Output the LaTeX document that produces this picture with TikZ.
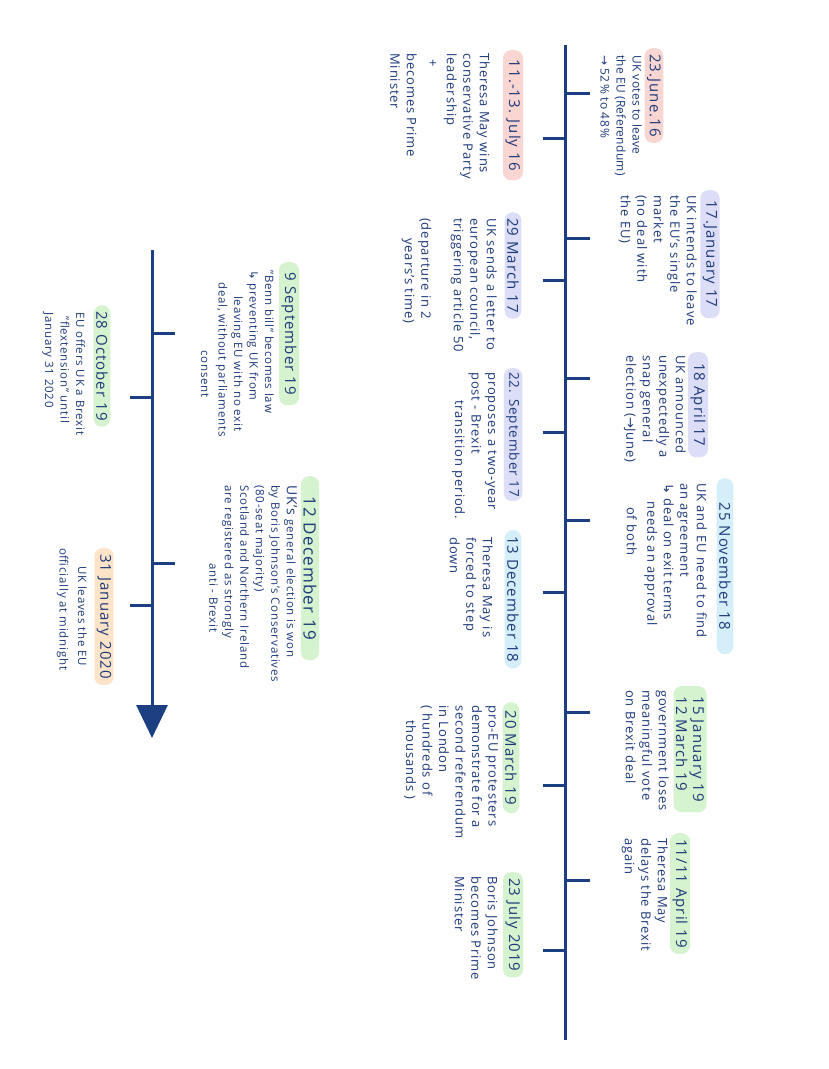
\documentclass[tikz,border=0pt]{standalone}
\usepackage{fontspec}
\setmainfont[LetterSpace=7]{Open Sans}
\newfontfamily\arrowfont{DejaVu Sans}
\usetikzlibrary{arrows.meta}

\definecolor{ink}{HTML}{1E3A7B}
\definecolor{navy}{HTML}{1B3F80}
\definecolor{rosebg}{HTML}{FAD6D2}
\definecolor{lilacbg}{HTML}{DCDDF7}
\definecolor{skybg}{HTML}{D4EEFA}
\definecolor{mintbg}{HTML}{D6F3CF}
\definecolor{peachbg}{HTML}{FDE4C9}

\newcommand{\hookarr}{{\arrowfont ↳}}
\newcommand{\toarr}{{\arrowfont →}}

\begin{document}
\begin{tikzpicture}[x=1pt, y=1pt,
    datebox/.style={fill=#1, rounded corners=8pt, anchor=west, inner xsep=6pt, inner ysep=2.5pt, text=ink, font=\fontsize{15}{17}\selectfont},
    note/.style={anchor=north west, align=left, inner sep=0pt, text=ink, font=\fontsize{13}{16.5}\selectfont},
    smallnote/.style={note, font=\fontsize{11.5}{15.5}\selectfont},
    spine/.style={navy, line width=3pt},
    stub/.style={navy, line width=3pt}
]
\fill[white] (0,0) rectangle (828,-1069);
\useasboundingbox (0,0) rectangle (828,-1069);

% sheet is turned: first coordinate runs down the page, second to the right
\begin{scope}[rotate=-90, transform shape]

% main timeline
\coordinate (main0) at (45,565);
\coordinate (main1) at (1040,565);
\draw[spine] (main0) -- (main1);
\foreach \u in {93,238,378,520,712,880}
    \draw[stub] (\u,565) -- (\u,590);
\foreach \u in {138,280,432,592,785,950}
    \draw[stub] (\u,565) -- (\u,543);

% second timeline
\coordinate (low0) at (250,152);
\coordinate (low1) at (738,152);
\draw[spine, -{Triangle[length=33pt, width=31pt]}] (low0) -- (low1);
\foreach \u in {333,563}
    \draw[stub] (\u,152) -- (\u,175);
\foreach \u in {397,605}
    \draw[stub] (\u,152) -- (\u,130);

% above the main line
\node[datebox=rosebg] (jun16) at (48,654) {23.June.16};
\node[note, font=\fontsize{12}{16}\selectfont\addfontfeature{LetterSpace=2}] (jun16txt) at (55,642) {UK votes to leave\\the EU (Referendum)\\\toarr{} 52\,\% to 48\,\%};

\node[datebox=lilacbg, minimum width=128pt] (jan17) at (190,710) {17.January 17};
\node[note] (jan17txt) at (195,697) {UK intends to leave\\the EU's single\\market\\(no deal with\\the EU)};

\node[datebox=lilacbg, minimum width=105pt] (apr17) at (352,698) {18 April 17};
\node[note] (apr17txt) at (355,686) {UK announced\\unexpectedly a\\snap general\\election (\toarr June)};

\node[datebox=skybg, minimum width=176pt] (nov18) at (478,725) {25 November 18};
\node[note] (nov18txt) at (483,707) {UK and EU need to find\\an agreement\\\hookarr{} deal on exit terms\\\hspace*{18pt}needs an approval\\[4pt]\hspace*{24pt}of both};

\node[datebox=mintbg, align=left, minimum width=126pt] (mar19a) at (686,690) {15 January 19\\12 March 19};
\node[note] (mar19atxt) at (690,669) {government loses\\meaningful vote\\on Brexit deal};

\node[datebox=mintbg] (apr19) at (833,680) {11/11 April 19};
\node[note] (apr19txt) at (838,668) {Theresa May\\delays the Brexit\\again};

% below the main line
\node[datebox=rosebg, minimum width=130pt] (jul16) at (50,513) {11.-13. July 16};
\node[note] (jul16txt) at (53,490) {Theresa May wins\\conservative Party\\leadership\\[2pt]\hspace*{6pt}+\\[5pt]becomes Prime\\Minister};

\node[datebox=lilacbg] (mar17) at (212,513) {29 March 17};
\node[note] (mar17txt) at (218,497) {UK sends a letter to\\european council,\\triggering article 50\\[16pt](departure in 2\\\hspace*{20pt}years's time)};

\node[datebox=lilacbg, font=\fontsize{13.5}{16}\selectfont, inner xsep=4pt] (sep17) at (368,513) {22. September 17};
\node[note] (sep17txt) at (372,497) {proposes a two-year\\post - Brexit\\\hspace*{28pt}transition period.};

\node[datebox=skybg] (dec18) at (530,513) {13 December 18};
\node[note] (dec18txt) at (537,493) {Theresa May is\\forced to step\\down};

\node[datebox=mintbg, minimum width=111pt] (mar19b) at (702,511) {20 March 19};
\node[note] (mar19btxt) at (705,498) {pro-EU protesters\\demonstrate for a\\second referendum\\in London\\( hundreds of\\\hspace*{15pt}thousands )};

\node[datebox=mintbg] (jul19) at (872,513) {23 July 2019};
\node[note] (jul19txt) at (876,498) {Boris Johnson\\becomes Prime\\Minister};

% second timeline, above
\node[datebox=mintbg, minimum width=143pt] (sep19) at (262,289) {9 September 19};
\node[smallnote] (sep19txt) at (270,274) {"Benn bill" becomes law\\\hookarr{} preventing UK from\\\hspace*{26pt}leaving EU with no exit\\\hspace*{12pt}deal, without parliaments\\[2pt]\hspace*{80pt}consent};

\node[datebox=mintbg, font=\fontsize{17}{19}\selectfont, minimum width=184pt] (dec19) at (476,310) {12 December 19};
\node[smallnote] (dec19txt) at (485,297) {{\fontsize{14}{16}\selectfont UK's} general election is won\\by Boris Johnson's Conservatives\\(80-seat majority)\\Scotland and Northern Ireland\\are registered as strongly\\\hspace*{78pt}anti - Brexit};

% second timeline, below
\node[datebox=mintbg] (oct19) at (305,102) {28 October 19};
\node[smallnote] (oct19txt) at (312,85) {EU offers UK a Brexit\\\hspace*{4pt}"flextension" until\\January 31 2020};

\node[datebox=peachbg] (jan20) at (548,104) {31 January 2020};
\node[smallnote] (jan20txt) at (548,87) {\hspace*{18pt}UK leaves the EU\\[3pt]officially at midnight};

\end{scope}
\end{tikzpicture}
\end{document}
